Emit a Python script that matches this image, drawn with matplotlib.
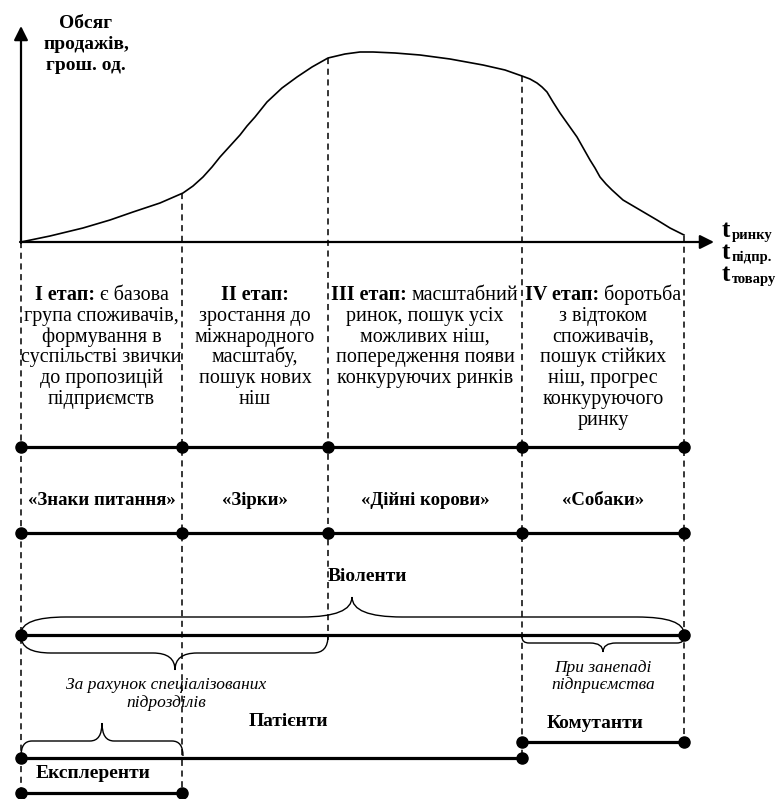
import matplotlib
matplotlib.use("Agg")
import matplotlib.pyplot as plt
from matplotlib.path import Path
from matplotlib.patches import PathPatch

plt.rcParams['font.family'] = ['Liberation Serif', 'DejaVu Serif']

# stage boundaries along the time axis (pixel-like units)
bounds = [21, 182, 328, 522, 684]

# sales curve
curve_x = [21, 50, 83, 110, 133, 160, 183, 193, 203, 212, 220, 230, 240, 247, 255, 267, 282,
           297, 312, 328, 345, 360, 373, 395, 420, 450, 483, 505, 522, 530, 537, 542, 547,
           553, 560, 577, 590, 595, 600, 606, 612, 623, 640, 657, 670, 684]
curve_y = [242, 236, 228, 220, 212, 203, 193, 186, 177, 167, 157, 146, 135, 126, 117, 102, 88,
           77, 67, 58, 54, 52, 52, 53, 55, 59, 65, 70, 76, 79, 83, 87, 92,
           102, 113, 137, 160, 168, 177, 184, 190, 200, 210, 220, 228, 235]

stage_heads = ['I етап:', 'II етап:', 'III етап:', 'IV етап:']
stage_lines = [
    ['є базова', 'група споживачів,', 'формування в', 'суспільстві звички',
     'до пропозицій', 'підприємств'],
    ['', 'зростання до', 'міжнародного', 'масштабу,', 'пошук нових', 'ніш'],
    ['масштабний', 'ринок, пошук усіх', 'можливих ніш,', 'попередження появи',
     'конкуруючих ринків'],
    ['боротьба', 'з відтоком', 'споживачів,', 'пошук стійких', 'ніш, прогрес',
     'конкуруючого', 'ринку'],
]
bcg_labels = ['«Знаки питання»', '«Зірки»', '«Дійні корови»', '«Собаки»']

fig = plt.figure(figsize=(7.77, 7.99), dpi=100)
ax = fig.add_axes([0, 0, 1, 1])
ax.set_xlim(0, 777)
ax.set_ylim(799, 0)
ax.axis('off')

# axes with arrows
arrow = dict(arrowstyle='-|>,head_length=0.6,head_width=0.3', lw=1.6, color='black',
             mutation_scale=14, shrinkA=0, shrinkB=0)
ax.annotate('', xy=(21, 26), xytext=(21, 243), arrowprops=arrow)
ax.annotate('', xy=(714, 242), xytext=(20, 242), arrowprops=arrow)

ax.plot(curve_x, curve_y, color='black', lw=1.2)

# dashed verticals
dash_top = [242, 193, 58, 76, 236]
dash_bot = [793, 793, 640, 758, 742]
for x, t, b in zip(bounds, dash_top, dash_bot):
    ax.plot([x, x], [t, b], color='black', lw=1.1, ls=(0, (4, 3)))

# axis labels
for i, s in enumerate(['Обсяг', 'продажів,', 'грош. од.']):
    ax.text(86, 28 + i * 21, s, fontsize=14, fontweight='bold', ha='center', va='baseline')
for i, s in enumerate(['ринку', 'підпр.', 'товару']):
    ax.text(722, 237 + i * 22, 't', fontsize=18, fontweight='bold', ha='left', va='baseline')
    ax.text(732, 239 + i * 22, s, fontsize=10.5, fontweight='bold', ha='left', va='baseline')

fig.canvas.draw()
rend = fig.canvas.get_renderer()


def mixed(cx, y, head, rest, size):
    t1 = ax.text(0, y, head, fontsize=size, fontweight='bold', ha='left', va='baseline')
    t2 = ax.text(0, y, rest, fontsize=size, ha='left', va='baseline')
    w1 = t1.get_window_extent(rend).width
    w2 = t2.get_window_extent(rend).width if rest else 0
    gap = 5 if rest else 0
    x0 = cx - (w1 + gap + w2) / 2
    t1.set_x(x0)
    t2.set_x(x0 + w1 + gap)


# stage descriptions
for k in range(4):
    cx = (bounds[k] + bounds[k + 1]) / 2
    lines = stage_lines[k]
    mixed(cx, 300, stage_heads[k], lines[0], 14.5)
    for j, s in enumerate(lines[1:], start=1):
        ax.text(cx, 300 + j * 20.8, s, fontsize=14.5, ha='center', va='baseline')
    ax.text(cx, 505, bcg_labels[k], fontsize=13.5, fontweight='bold', ha='center', va='baseline')


def hline(y, xs):
    ax.plot([xs[0], xs[-1]], [y, y], color='black', lw=2.3)
    ax.plot(xs, [y] * len(xs), 'o', color='black', ms=8)


hline(447, bounds)
hline(533, bounds)
hline(635, [21, 684])
hline(742, [522, 684])
hline(758, [21, 522])
hline(793, [21, 182])


def brace(x0, x1, xm, y0, yf, yt, rl, rt, rr):
    verts = [(x0, y0), (x0, yf), (x0 + rl, yf), (xm - rt, yf), (xm, yf), (xm, yt),
             (xm, yf), (xm + rt, yf), (x1 - rr, yf), (x1, yf), (x1, y0)]
    codes = [Path.MOVETO, Path.CURVE3, Path.CURVE3, Path.LINETO, Path.CURVE3, Path.CURVE3,
             Path.CURVE3, Path.CURVE3, Path.LINETO, Path.CURVE3, Path.CURVE3]
    ax.add_patch(PathPatch(Path(verts, codes), fill=False, lw=1.0, color='black'))


brace(21, 684, 352, 634, 617, 597, 45, 50, 47)
brace(21, 328, 175, 636, 653, 670, 30, 22, 15)
brace(522, 684, 603, 637, 643, 652, 7, 13, 7)
brace(21, 183, 102, 756, 741, 723, 11, 12, 11)

ax.text(367, 581, 'Віоленти', fontsize=14, fontweight='bold', ha='center', va='baseline')
ax.text(288, 726, 'Патієнти', fontsize=14, fontweight='bold', ha='center', va='baseline')
ax.text(595, 728, 'Комутанти', fontsize=14, fontweight='bold', ha='center', va='baseline')
ax.text(93, 778, 'Експлеренти', fontsize=14, fontweight='bold', ha='center', va='baseline')

ax.text(166, 689, 'За рахунок спеціалізованих', fontsize=12.5, style='italic', ha='center', va='baseline')
ax.text(166, 707, 'підрозділів', fontsize=12.5, style='italic', ha='center', va='baseline')
ax.text(603, 672, 'При занепаді', fontsize=12.5, style='italic', ha='center', va='baseline')
ax.text(603, 689, 'підприємства', fontsize=12.5, style='italic', ha='center', va='baseline')

fig.savefig('out.png', dpi=100)
